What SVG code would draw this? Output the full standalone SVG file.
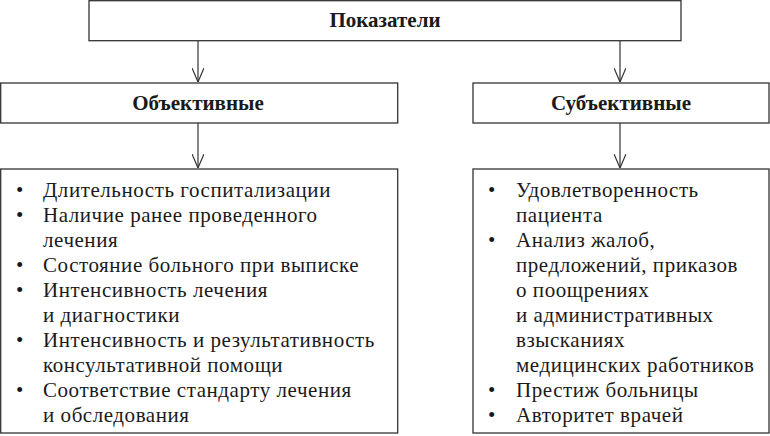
<svg xmlns="http://www.w3.org/2000/svg" width="770" height="436" viewBox="0 0 770 436">
<style>
.box{fill:#fff;stroke:#333;stroke-width:1.3}
.h{font-family:"Liberation Serif","DejaVu Serif",serif;font-weight:bold;font-size:21px;fill:#1a1a1a;text-anchor:middle}
.t{font-family:"Liberation Serif","DejaVu Serif",serif;font-size:21px;letter-spacing:0.55px;fill:#1a1a1a}
.c{fill:none;stroke:#333;stroke-width:1.2}
</style>
<defs>
<marker id="ah" viewBox="0 0 14 12" refX="14" refY="6" markerWidth="14" markerHeight="12" markerUnits="userSpaceOnUse" orient="auto">
<path d="M0,0 L14,6 L0,12" fill="none" stroke="#333" stroke-width="1.2"/>
</marker>
</defs>
<rect width="770" height="436" fill="#fff"/>
<g id="connectors">
<line class="c" x1="198" y1="41" x2="198" y2="82" marker-end="url(#ah)"/>
<line class="c" x1="620" y1="41" x2="620" y2="82" marker-end="url(#ah)"/>
<line class="c" x1="198" y1="123" x2="198" y2="168" marker-end="url(#ah)"/>
<line class="c" x1="620" y1="123" x2="620" y2="168" marker-end="url(#ah)"/>
</g>
<g id="top">
<rect class="box" x="89" y="0.7" width="592" height="40"/>
<text class="h" x="385" y="27">Показатели</text>
</g>
<g id="objective">
<rect class="box" x="0.7" y="83" width="397" height="40"/>
<text class="h" x="198" y="110">Объективные</text>
</g>
<g id="subjective">
<rect class="box" x="473" y="83" width="296" height="40"/>
<text class="h" x="621" y="110">Субъективные</text>
</g>
<g id="objective-list">
<rect class="box" x="0.7" y="169" width="397" height="264"/>
<g class="t">
<text x="16" y="197">•</text><text x="43" y="197">Длительность госпитализации</text>
<text x="16" y="222">•</text><text x="43" y="222">Наличие ранее проведенного</text>
<text x="43" y="247">лечения</text>
<text x="16" y="272">•</text><text x="43" y="272">Состояние больного при выписке</text>
<text x="16" y="297">•</text><text x="43" y="297">Интенсивность лечения</text>
<text x="43" y="322">и диагностики</text>
<text x="16" y="347">•</text><text x="43" y="347">Интенсивность и результативность</text>
<text x="43" y="372">консультативной помощи</text>
<text x="16" y="397">•</text><text x="43" y="397">Соответствие стандарту лечения</text>
<text x="43" y="422">и обследования</text>
</g>
</g>
<g id="subjective-list">
<rect class="box" x="473" y="169" width="296" height="264"/>
<g class="t">
<text x="488" y="197">•</text><text x="516" y="197">Удовлетворенность</text>
<text x="516" y="222">пациента</text>
<text x="488" y="247">•</text><text x="516" y="247">Анализ жалоб,</text>
<text x="516" y="272">предложений, приказов</text>
<text x="516" y="297">о поощрениях</text>
<text x="516" y="322">и административных</text>
<text x="516" y="347">взысканиях</text>
<text x="516" y="372">медицинских работников</text>
<text x="488" y="397">•</text><text x="516" y="397">Престиж больницы</text>
<text x="488" y="422">•</text><text x="516" y="422">Авторитет врачей</text>
</g>
</g>
</svg>
